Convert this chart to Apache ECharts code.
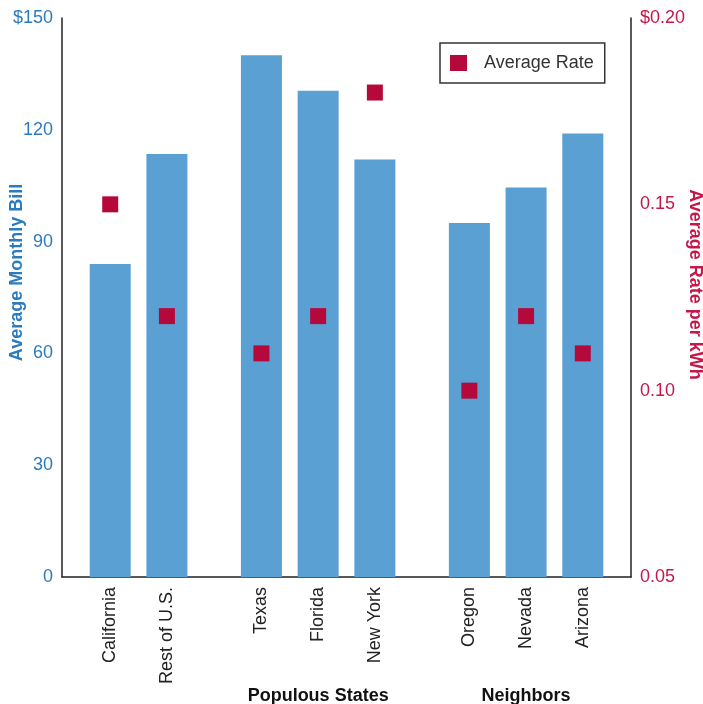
<!DOCTYPE html>
<html>
<head>
<meta charset="utf-8">
<script src="https://cdn.jsdelivr.net/npm/echarts@6/dist/echarts.min.js"></script>
<style>html,body{margin:0;padding:0;background:#fff}#c{width:703px;height:704px}</style>
</head>
<body>
<div id="c"></div>
<script>
// ---- data ----
const categories = ['California', 'Rest of U.S.', 'Texas', 'Florida', 'New York', 'Oregon', 'Nevada', 'Arizona'];
const groupOf = [0, 0, 1, 1, 1, 2, 2, 2];
const groupNames = ['', 'Populous States', 'Neighbors'];
const monthlyBill = [84, 113.5, 140, 130.5, 112, 95, 104.5, 119];
const ratePerKWh = [0.15, 0.12, 0.11, 0.12, 0.18, 0.10, 0.12, 0.11];
const leftTicks = [0, 30, 60, 90, 120, 150];
const rightTicks = [0.05, 0.10, 0.15, 0.20];

// ---- layout helpers (group gap between category clusters) ----
const GROUP_GAP = 2 / 3;
const xPos = categories.map((c, i) => i + groupOf[i] * GROUP_GAP);
const groupCenters = [];
const groupLabels = [];
[1, 2].forEach(g => {
  const idx = xPos.filter((p, i) => groupOf[i] === g);
  groupCenters.push((idx[0] + idx[idx.length - 1]) / 2);
  groupLabels.push(groupNames[g]);
});
const X_MIN = -0.85, X_MAX = xPos[xPos.length - 1] + 0.85;

function nameAt(list, names, v) {
  for (let i = 0; i < list.length; i++) if (Math.abs(list[i] - v) < 1e-6) return names[i];
  return '';
}

const FONT = '"Liberation Sans", Arial, sans-serif';
const BLUE_TXT = '#2b7bbd';
const RED_TXT = '#c4184b';
const BAR = '#5aa0d3';
const MARK = '#b5093c';
const FS = 18;

const chart = echarts.init(document.getElementById('c'), null, { renderer: 'canvas' });
chart.setOption({
  animation: false,
  textStyle: { fontFamily: FONT },
  grid: { left: 62, right: 72, top: 18, bottom: 127, containLabel: false, outerBoundsMode: 'none' },
  legend: {
    data: ['Average Rate'],
    left: 440, top: 43,
    orient: 'horizontal',
    borderColor: '#333', borderWidth: 1.5, borderRadius: 0,
    padding: [11, 11, 11, 10],
    itemWidth: 17, itemHeight: 16,
    textStyle: { fontSize: FS, color: '#333', fontFamily: FONT, padding: [0, 0, 0, 12] },
    icon: 'rect'
  },
  xAxis: [
    {
      type: 'value', min: X_MIN, max: X_MAX, position: 'bottom',
      splitLine: { show: false },
      axisLine: { show: true, onZero: false, lineStyle: { color: '#222', width: 1.5 } },
      axisTick: { show: false },
      axisLabel: {
        customValues: xPos,
        rotate: 90, margin: 10,
        fontSize: FS, color: '#222', fontFamily: FONT,
        formatter: v => nameAt(xPos, categories, v)
      }
    },
    {
      type: 'value', min: X_MIN, max: X_MAX, position: 'bottom', offset: 102,
      splitLine: { show: false },
      axisLine: { show: false },
      axisTick: { show: false },
      axisLabel: {
        customValues: groupCenters,
        margin: 8,
        fontSize: FS, fontWeight: 'bold', color: '#111', fontFamily: FONT,
        formatter: v => nameAt(groupCenters, groupLabels, v)
      }
    }
  ],
  yAxis: [
    {
      type: 'value', min: 0, max: 150, interval: 30, position: 'left',
      name: 'Average Monthly Bill', nameLocation: 'middle', nameGap: 36, nameMoveOverlap: false,
      nameTextStyle: { color: BLUE_TXT, fontWeight: 'bold', fontSize: FS, fontFamily: FONT, padding: [0, 0, 0, 50] },
      splitLine: { show: false },
      axisLine: { show: true, onZero: false, lineStyle: { color: '#222', width: 1.5 } },
      axisTick: { show: false },
      axisLabel: {
        margin: 9, fontSize: FS, color: BLUE_TXT, fontFamily: FONT,
        formatter: v => (v === leftTicks[leftTicks.length - 1] ? '$' + v : String(v))
      }
    },
    {
      type: 'value', min: 0.05, max: 0.20, interval: 0.05, position: 'right',
      name: 'Average Rate per kWh', nameLocation: 'middle', nameGap: 55, nameRotate: -90, nameMoveOverlap: false,
      nameTextStyle: { color: RED_TXT, fontWeight: 'bold', fontSize: FS, fontFamily: FONT, padding: [0, 26, 0, 0] },
      splitLine: { show: false },
      axisLine: { show: true, onZero: false, lineStyle: { color: '#222', width: 1.5 } },
      axisTick: { show: false },
      axisLabel: {
        margin: 9, fontSize: FS, color: RED_TXT, fontFamily: FONT,
        formatter: v => {
          const s = v.toFixed(2);
          return Math.abs(v - rightTicks[rightTicks.length - 1]) < 1e-9 ? '$' + s : s;
        }
      }
    }
  ],
  series: [
    {
      name: 'Average Monthly Bill', type: 'bar', xAxisIndex: 0, yAxisIndex: 0,
      barWidth: 41,
      itemStyle: { color: BAR },
      data: monthlyBill.map((v, i) => [xPos[i], v])
    },
    {
      name: 'Average Rate', type: 'scatter', xAxisIndex: 0, yAxisIndex: 1,
      symbol: 'rect', symbolSize: 16,
      itemStyle: { color: MARK, opacity: 1 },
      data: ratePerKWh.map((v, i) => [xPos[i], v])
    }
  ]
});
</script>
</body>
</html>
